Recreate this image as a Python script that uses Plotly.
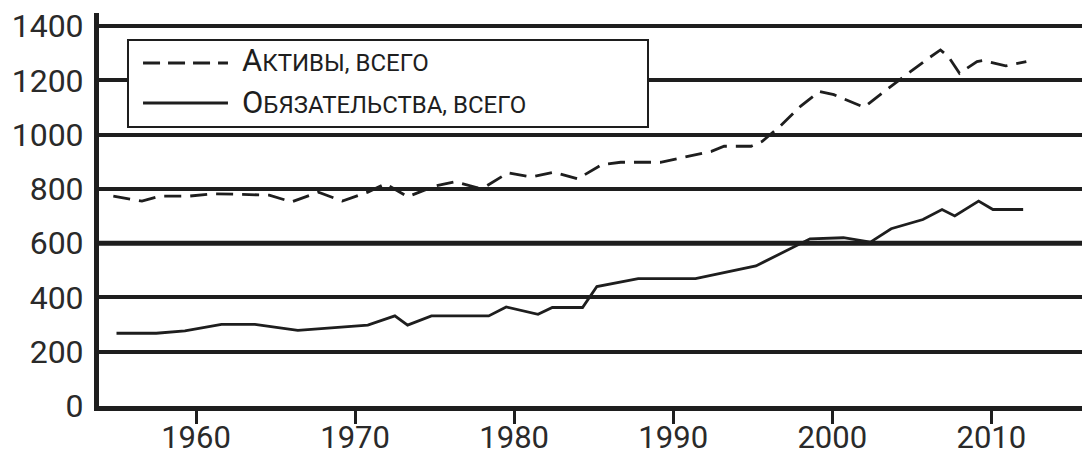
import plotly.graph_objects as go

# ---- data ----
years_assets = [1954.8, 1956.6, 1957.7, 1959.5, 1961.2, 1964.6, 1966.0, 1967.7, 1969.2, 1970.8,
                1971.9, 1973.3, 1975.0, 1976.3, 1977.7, 1978.3, 1979.6, 1981.1, 1982.5, 1984.0,
                1985.5, 1986.7, 1989.2, 1990.5, 1992.4, 1993.2, 1994.9, 1995.6, 1996.7, 1998.0,
                1999.2, 2000.1, 2002.0, 2003.4, 2004.5, 2005.9, 2006.8, 2007.3, 2008.0, 2009.1,
                2009.5, 2010.9, 2012.2]
assets = [773, 755, 773, 773, 782, 777, 752, 788, 755, 788,
          819, 771, 810, 826, 804, 812, 859, 844, 861, 837,
          889, 898, 898, 914, 938, 957, 957, 975, 1030, 1104,
          1159, 1147, 1101, 1165, 1214, 1275, 1312, 1287, 1226, 1269,
          1273, 1253, 1269]

years_liab = [1955.0, 1957.5, 1959.3, 1961.6, 1963.7, 1966.4, 1970.8, 1972.5, 1973.3, 1974.8,
              1978.4, 1979.5, 1981.5, 1982.4, 1984.3, 1985.2, 1987.8, 1991.4, 1995.2, 1998.6,
              2000.7, 2002.4, 2003.7, 2005.7, 2006.9, 2007.7, 2009.2, 2010.1, 2012.0]
liabilities = [268, 268, 277, 301, 301, 279, 298, 332, 298, 332,
               332, 365, 338, 363, 363, 440, 469, 469, 516, 616,
               620, 604, 653, 687, 724, 700, 755, 724, 724]

x_ticks = [1960, 1970, 1980, 1990, 2000, 2010]
y_ticks = [0, 200, 400, 600, 800, 1000, 1200, 1400]

label_assets = "А<span style='font-size:24px'>КТИВЫ, ВСЕГО</span>"
label_liab = "О<span style='font-size:24px'>БЯЗАТЕЛЬСТВА, ВСЕГО</span>"

INK = "#1e1e1e"
FONT = "Roboto"

fig = go.Figure()
fig.add_trace(go.Scatter(x=years_assets, y=assets, mode="lines", name="Активы, всего",
                         line=dict(color=INK, width=2.8, dash="17px,9px"), showlegend=False))
fig.add_trace(go.Scatter(x=years_liab, y=liabilities, mode="lines", name="Обязательства, всего",
                         line=dict(color=INK, width=2.8), showlegend=False))

# slightly heavier rule at 600 as in the reference
fig.add_shape(type="line", xref="paper", yref="y", x0=0, x1=1, y0=600, y1=600,
              line=dict(color=INK, width=5), layer="below")

# custom legend box (paper coordinates)
fig.add_shape(type="rect", xref="paper", yref="paper", x0=0.0295, x1=0.5585, y0=0.7099, y1=0.9313,
              line=dict(color=INK, width=2), fillcolor="white", layer="above")
fig.add_shape(type="line", xref="paper", yref="paper", x0=0.0448, x1=0.1312, y0=0.8728, y1=0.8728,
              line=dict(color=INK, width=3, dash="17px,8px"), layer="above")
fig.add_shape(type="line", xref="paper", yref="paper", x0=0.0448, x1=0.1312, y0=0.7710, y1=0.7710,
              line=dict(color=INK, width=3), layer="above")
fig.add_annotation(xref="paper", yref="paper", x=0.1434, y=0.8804, text=label_assets,
                   showarrow=False, xanchor="left", yanchor="middle",
                   font=dict(family=FONT, size=31, color=INK))
fig.add_annotation(xref="paper", yref="paper", x=0.1434, y=0.7735, text=label_liab,
                   showarrow=False, xanchor="left", yanchor="middle",
                   font=dict(family=FONT, size=31, color=INK))

fig.update_layout(
    width=1082, height=456,
    margin=dict(l=99, r=0, t=13, b=50),
    paper_bgcolor="white", plot_bgcolor="white",
    font=dict(family=FONT, size=32, color="#2a2a2a"),
)
fig.update_xaxes(range=[1953.9, 2015.7], tickvals=x_ticks, ticks="outside", ticklen=13,
                 tickwidth=3, tickcolor=INK, showgrid=False, zeroline=False,
                 showline=True, linewidth=5, linecolor=INK, automargin=False,
                 ticklabelstandoff=-13, tickfont=dict(size=31))
fig.update_yaxes(range=[0, 1448], tickvals=y_ticks, showgrid=True, gridcolor=INK, gridwidth=3.5,
                 zeroline=False, showline=True, linewidth=5, linecolor=INK, ticks="",
                 ticklabelstandoff=4, automargin=False)

fig.write_html("out.html", config={"displayModeBar": False},
               post_script="document.body.style.margin='0px';")
